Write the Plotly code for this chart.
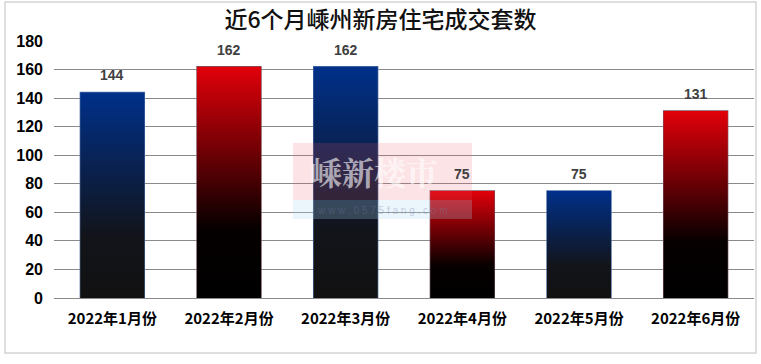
import plotly.graph_objects as go

# ---- data ----
categories = ["2022年1月份", "2022年2月份", "2022年3月份", "2022年4月份", "2022年5月份", "2022年6月份"]
values = [144, 162, 162, 75, 75, 131]
bar_colors = ["blue", "red", "blue", "red", "blue", "red"]
y_ticks = [0, 20, 40, 60, 80, 100, 120, 140, 160, 180]
title_text = "近6个月嵊州新房住宅成交套数"

# ---- styles ----
BAR_W = 0.55
scales = {
    "blue": [[0, "#111111"], [0.3, "#12141a"], [1, "#00308a"]],
    "red": [[0, "#000000"], [0.3, "#060000"], [1, "#e2000a"]],
}
borders = {"blue": "#4f72a8", "red": "#7a5566"}

fig = go.Figure()
xs = list(range(len(categories)))

for i, v, c in zip(xs, values, bar_colors):
    fig.add_trace(go.Scatter(
        x=[i - BAR_W / 2, i + BAR_W / 2, i + BAR_W / 2, i - BAR_W / 2, i - BAR_W / 2],
        y=[0, 0, v, v, 0],
        mode="lines", fill="toself",
        line=dict(width=0, color="rgba(0,0,0,0)"),
        fillgradient=dict(type="vertical", colorscale=scales[c], start=0, stop=v),
        hoverinfo="skip", showlegend=False,
    ))

fig.add_trace(go.Bar(
    x=xs, y=values, width=BAR_W,
    marker=dict(color="rgba(0,0,0,0)", line=dict(color=[borders[c] for c in bar_colors], width=1.2)),
    showlegend=False,
))

for i, v in zip(xs, values):
    fig.add_annotation(x=i, y=v, text=str(v), showarrow=False, yshift=17,
                       font=dict(family="Liberation Sans", size=14, color="#404040", weight="bold"))

def px_to_paper_x(p):
    return (p - 54) / 700

def px_to_paper_y(p):
    return (298 - p) / 257

# outer frame
fig.add_shape(type="rect", xref="paper", yref="paper",
              x0=px_to_paper_x(5), x1=px_to_paper_x(756),
              y0=px_to_paper_y(353), y1=px_to_paper_y(2),
              line=dict(color="#d4d4d4", width=1.5), layer="below")

# watermark
fig.add_shape(type="rect", xref="paper", yref="paper",
              x0=px_to_paper_x(293), x1=px_to_paper_x(472),
              y0=px_to_paper_y(200), y1=px_to_paper_y(143),
              fillcolor="rgba(235,90,105,0.17)", line=dict(width=0), layer="above")
fig.add_shape(type="rect", xref="paper", yref="paper",
              x0=px_to_paper_x(293), x1=px_to_paper_x(472),
              y0=px_to_paper_y(219), y1=px_to_paper_y(200),
              fillcolor="rgba(170,215,245,0.25)", line=dict(width=0), layer="above")
fig.add_annotation(xref="paper", yref="paper", x=px_to_paper_x(374), y=px_to_paper_y(171),
                   text="嵊新楼市", showarrow=False,
                   font=dict(family="Noto Serif CJK SC, Noto Sans CJK SC", size=32, color="rgba(255,255,255,0.6)", weight="bold"))
fig.add_annotation(xref="paper", yref="paper", x=px_to_paper_x(382), y=px_to_paper_y(210),
                   text="w w w . 0 5 7 5 f a n g . c o m", showarrow=False,
                   font=dict(family="Liberation Sans", size=10, color="rgba(120,120,160,0.35)"))

fig.update_layout(
    width=761, height=364,
    margin=dict(l=54, r=7, t=41, b=66),
    paper_bgcolor="white", plot_bgcolor="white",
    title=dict(text=title_text, x=0.5, xref="container", y=1 - 20 / 364, yref="container",
               xanchor="center", yanchor="middle",
               font=dict(family="Noto Sans CJK SC", size=23, color="#111111", weight=500)),
    xaxis=dict(range=[-0.5, len(categories) - 0.5], tickvals=xs, ticktext=categories,
               showgrid=False, zeroline=False, showline=False, ticks="",
               ticklabelstandoff=10,
               tickfont=dict(family="Noto Sans CJK SC", size=15, color="black", weight="bold")),
    yaxis=dict(range=[0, 180], tickvals=y_ticks, showgrid=True, gridcolor="#8a8a8a", gridwidth=1,
               zeroline=True, zerolinecolor="#8a8a8a", zerolinewidth=1, showline=False,
               ticks="", ticklabelstandoff=10,
               tickfont=dict(family="Liberation Sans", size=16, color="black", weight="bold")),
    showlegend=False,
)

fig.write_html("out.html")
